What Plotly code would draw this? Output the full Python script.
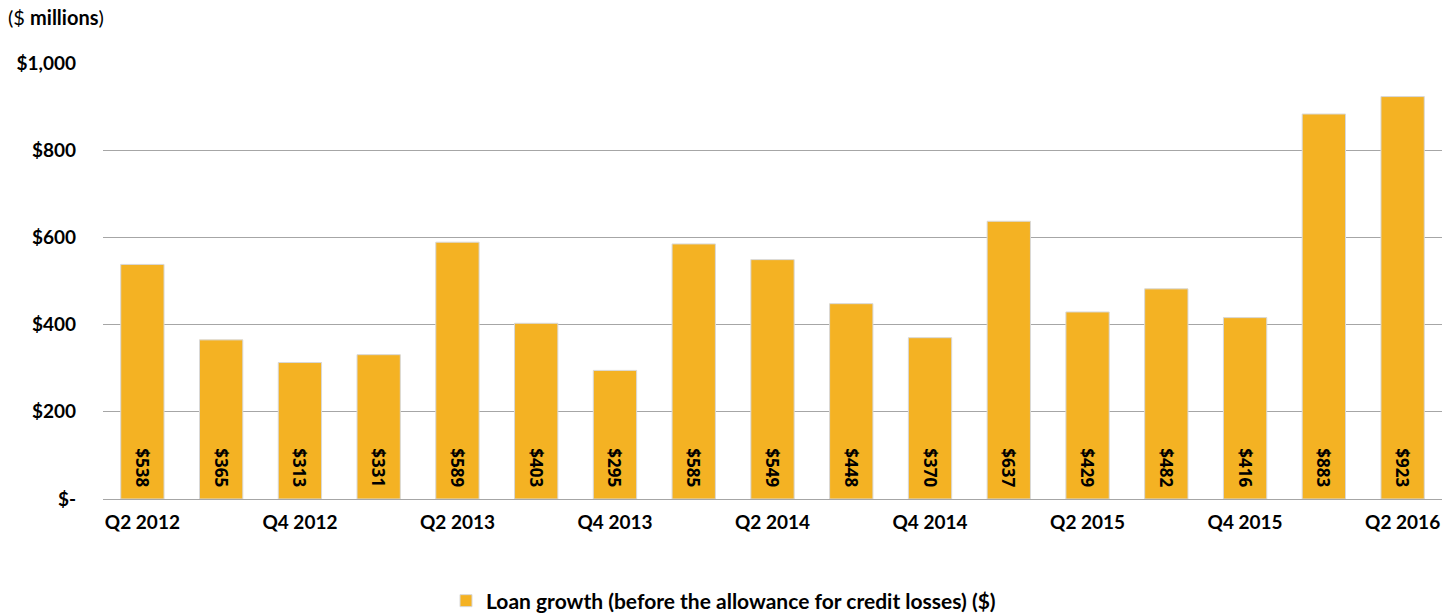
import plotly.graph_objects as go

quarters = ["Q2 2012", "Q3 2012", "Q4 2012", "Q1 2013", "Q2 2013", "Q3 2013", "Q4 2013",
            "Q1 2014", "Q2 2014", "Q3 2014", "Q4 2014", "Q1 2015", "Q2 2015", "Q3 2015",
            "Q4 2015", "Q1 2016", "Q2 2016"]
loan_growth = [538, 365, 313, 331, 589, 403, 295, 585, 549, 448, 370, 637, 429, 482, 416, 883, 923]
shown_ticks = quarters[::2]
y_ticks = [0, 200, 400, 600, 800, 1000]
y_tick_labels = ["$-", "$200", "$400", "$600", "$800", "$1,000"]

FONT = "Lato"
bar_color = "#F4B223"

fig = go.Figure()
fig.add_trace(go.Bar(
    x=quarters, y=loan_growth,
    name="<b>Loan growth (before the allowance for credit losses) ($)</b>",
    marker=dict(color=bar_color, line=dict(color="#d8d8d8", width=1)),
    text=[f"<b>${v}</b>\u00a0\u00a0" for v in loan_growth],
    textposition="inside", insidetextanchor="start", textangle=90,
    textfont=dict(family="Open Sans", size=17, color="black", weight=700),
    constraintext="none",
))

fig.update_layout(
    width=1447, height=613,
    margin=dict(l=103, r=5, t=63, b=114, autoexpand=False),
    plot_bgcolor="white", paper_bgcolor="white",
    bargap=0.45,
    font=dict(family=FONT, size=18, color="black"),
    showlegend=True,
    legend=dict(orientation="h", x=0.5, xanchor="center", xref="container",
                y=1 - 601 / 613, yanchor="middle", yref="container",
                font=dict(family=FONT, size=21, color="black")),
    xaxis=dict(tickmode="array", tickvals=shown_ticks,
               ticktext=[f"<b>{t}</b>" for t in shown_ticks],
               showline=False, ticks="", automargin=False, ticklabelstandoff=10,
               tickfont=dict(family=FONT, size=19)),
    yaxis=dict(range=[0, 1000], tickvals=y_ticks,
               ticktext=[f"<b>{t}</b>" for t in y_tick_labels],
               showgrid=True, gridcolor="#a6a6a6", gridwidth=1,
               zeroline=True, zerolinecolor="#a6a6a6", zerolinewidth=1,
               ticks="", ticklabelstandoff=26, automargin=False,
               tickfont=dict(family=FONT, size=19)),
    annotations=[dict(text="($ <b>millions</b>)", xref="paper", yref="paper",
                      x=-97 / 1339, y=1.0 + 46 / 436, xanchor="left", yanchor="middle",
                      showarrow=False, font=dict(family=FONT, size=20, color="black"))],
)

fig.write_html("out.html", config={"displayModeBar": False},
               post_script="document.body.style.margin='0';document.body.style.padding='0';")
